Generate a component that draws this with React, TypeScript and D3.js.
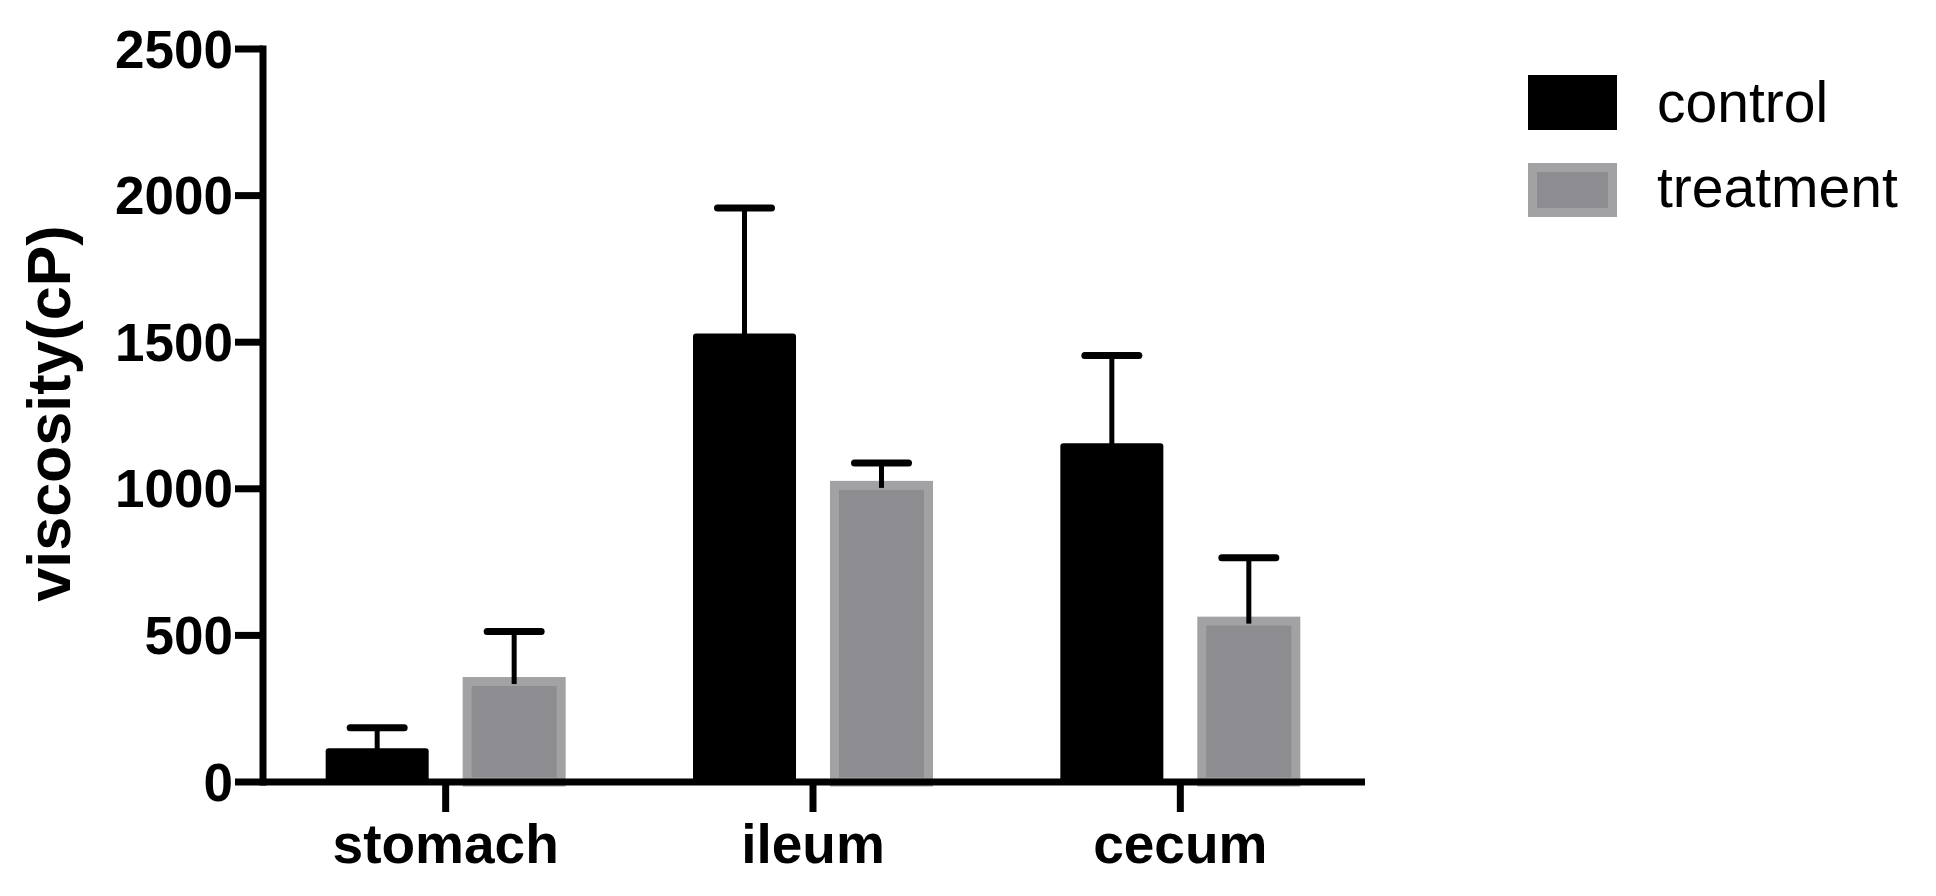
import React from "react";
import * as d3 from "d3";

const categories = ["stomach", "ileum", "cecum"];
const seriesNames = ["control", "treatment"];
const controlMean = [115, 1530, 1155];
const controlErr = [70, 428, 300];
const treatmentMean = [358, 1027, 564];
const treatmentErr = [155, 61, 201];
const yTicks = [0, 500, 1000, 1500, 2000, 2500];

const W = 1936;
const H = 896;
const FONT = "'Liberation Sans', Arial, Helvetica, sans-serif";
const BLACK = "#000000";
const GRAY_IN = "#8d8d91";
const GRAY_OUT = "#a2a2a4";

export default function App() {
  const x0 = d3.scaleBand<string>().domain(categories).range([262, 1364]).padding(0);
  const bw0 = x0.bandwidth();
  const x1 = d3
    .scaleBand<string>()
    .domain(seriesNames)
    .range([bw0 / 2 - 120, bw0 / 2 + 120])
    .paddingInner(0.248)
    .paddingOuter(0);
  const y = d3.scaleLinear().domain([0, 2500]).range([782, 49]);

  const data = categories.map((c, i) => ({
    cat: c,
    vals: [
      { s: "control", m: controlMean[i], e: controlErr[i] },
      { s: "treatment", m: treatmentMean[i], e: treatmentErr[i] },
    ],
  }));

  const axisX = 263;
  const lw = 7;
  const bw = x1.bandwidth();

  return (
    <svg
      width={W}
      height={H}
      style={{ position: "fixed", left: 0, top: 0, background: "#fff" }}
      fontFamily={FONT}
    >
      <rect x={0} y={0} width={W} height={H} fill="#fff" />
      {/* bars */}
      {data.map((g) =>
        g.vals.map((v) => {
          const bx = (x0(g.cat) as number) + (x1(v.s) as number);
          const top = y(v.m);
          const base = y(0);
          const cx = bx + bw / 2;
          const errTop = y(v.m + v.e);
          return (
            <g key={g.cat + v.s}>
              {v.s === "control" ? (
                <rect x={bx} y={top} width={bw} height={base - top} fill={BLACK} rx={3} />
              ) : (
                <rect
                  x={bx + 4.5}
                  y={top + 4.5}
                  width={bw - 9}
                  height={base - top - 4.5}
                  fill={GRAY_IN}
                  stroke={GRAY_OUT}
                  strokeWidth={9}
                />
              )}
              <line x1={cx} x2={cx} y1={top + 7} y2={errTop} stroke={BLACK} strokeWidth={5} />
              <line
                x1={cx - 27}
                x2={cx + 27}
                y1={errTop}
                y2={errTop}
                stroke={BLACK}
                strokeWidth={7}
                strokeLinecap="round"
              />
            </g>
          );
        })
      )}
      {/* y axis */}
      <line x1={axisX} x2={axisX} y1={y(2500) - lw / 2} y2={y(0) + lw / 2} stroke={BLACK} strokeWidth={lw} />
      {yTicks.map((t) => (
        <g key={t}>
          <line x1={235} x2={axisX} y1={y(t)} y2={y(t)} stroke={BLACK} strokeWidth={lw} />
          <text
            x={233}
            y={y(t)}
            textAnchor="end"
            dominantBaseline="central"
            fontSize={53}
            fontWeight="bold"
            fill={BLACK}
          >
            {t}
          </text>
        </g>
      ))}
      {/* x axis */}
      <line x1={axisX} x2={1365} y1={y(0)} y2={y(0)} stroke={BLACK} strokeWidth={lw} />
      {categories.map((c) => {
        const cx = (x0(c) as number) + bw0 / 2;
        return (
          <g key={c}>
            <line x1={cx} x2={cx} y1={y(0)} y2={y(0) + 30} stroke={BLACK} strokeWidth={lw} />
            <text x={cx} y={863} textAnchor="middle" fontSize={55} fontWeight="bold" fill={BLACK}>
              {c}
            </text>
          </g>
        );
      })}
      {/* y title */}
      <text
        transform={`translate(70, ${(y(0) + y(2500)) / 2 - 2}) rotate(-90)`}
        textAnchor="middle"
        fontSize={61}
        fontWeight="bold"
        fill={BLACK}
      >
        viscosity(cP)
      </text>
      {/* legend */}
      <rect x={1528} y={75} width={89} height={55} fill={BLACK} />
      <text x={1657} y={122} fontSize={57} fill={BLACK}>
        {seriesNames[0]}
      </text>
      <rect x={1532.5} y={167.5} width={80} height={45} fill={GRAY_IN} stroke={GRAY_OUT} strokeWidth={9} />
      <text x={1657} y={207} fontSize={57} fill={BLACK}>
        {seriesNames[1]}
      </text>
    </svg>
  );
}
